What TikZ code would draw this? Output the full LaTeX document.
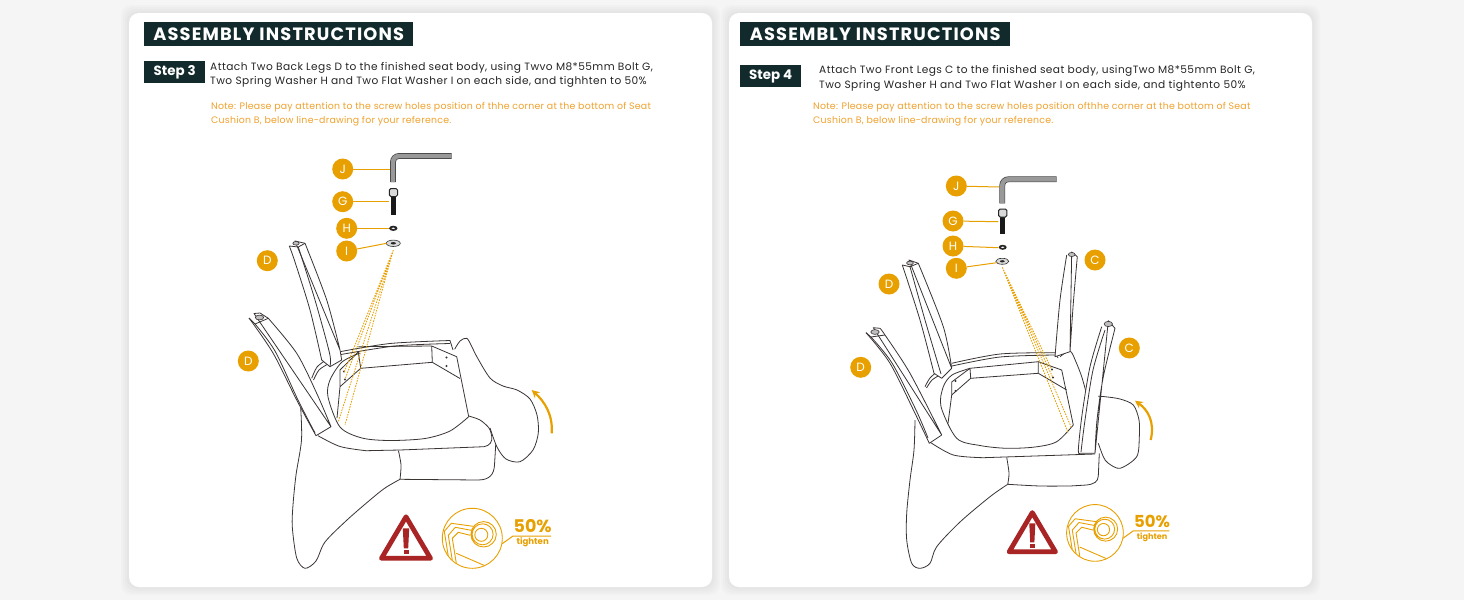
\documentclass[tikz,border=0pt]{standalone}
\usepackage{fontspec}
\setmainfont{Poppins}
\usetikzlibrary{arrows.meta}
\definecolor{pagegray}{HTML}{F5F5F5}
\definecolor{headbg}{HTML}{132A2C}
\definecolor{tagorange}{HTML}{E8A000}
\definecolor{noteorange}{HTML}{F0A22E}
\definecolor{warnred}{HTML}{A92424}
\definecolor{inkline}{HTML}{3A3433}
\newfontfamily\wideface[LetterSpace=4]{Poppins}
\newfontfamily\noteface[LetterSpace=2.5]{Poppins}
\newfontfamily\headface[LetterSpace=6.5]{Poppins}
\tikzset{
  headbox/.style={fill=headbg,text=white,font=\headface\bfseries\fontsize{17.8}{19}\selectfont,minimum height=24pt,inner sep=0pt,anchor=north west},
  stepbox/.style={fill=headbg,text=white,font=\bfseries\fontsize{13.4}{15}\selectfont,minimum width=61pt,minimum height=22pt,inner sep=0pt,anchor=north west},
  bodytext/.style={text=black!85,font=\wideface\fontsize{10.6}{14.4}\selectfont,align=left,anchor=north west,inner sep=0pt},
  notetext/.style={text=noteorange,font=\noteface\fontsize{9.4}{13.3}\selectfont,align=left,anchor=north west,inner sep=0pt},
  tag/.style={circle,fill=tagorange,text=white,font=\fontsize{12}{14}\selectfont,minimum size=21pt,inner sep=0pt},
  tagline/.style={tagorange,line width=1pt},
  outline/.style={draw=inkline,line width=.8pt,fill=white,line join=round},
  thinline/.style={draw=inkline,line width=.8pt,line join=round},
  capdot/.style={draw=inkline,line width=.6pt,fill=black!25},
  aimline/.style={tagorange,line width=.8pt,dash pattern=on 1.6pt off 1.1pt},
  turnarrow/.style={tagorange,line width=2.2pt,-{Stealth[length=8pt,width=8pt,inset=3pt]}},
  hexkey/.style={draw=black!75,double=black!40,line width=.7pt,double distance=4.4pt,rounded corners=6pt},
}
\begin{document}
\begin{tikzpicture}[x=1pt,y=-1pt]
\useasboundingbox (0,0) rectangle (1464,600);
\fill[pagegray] (0,0) rectangle (1464,600);

% cards
\foreach \x in {129,729}{
  \foreach \w in {8,6,4,2}{
    \fill[black,opacity=.014,rounded corners=10pt] (\x-\w,13-\w) rectangle (\x+583+\w,587+\w);
  }
  \fill[white,rounded corners=10pt] (\x,13) rectangle (\x+583,587);
}

% headings
\node[headbox,minimum width=269pt] (headl) at (144,22) {ASSEMBLY INSTRUCTIONS};
\node[headbox,minimum width=270pt] (headr) at (740,22) {ASSEMBLY INSTRUCTIONS};
\node[stepbox] (stepl) at (144,61) {\raisebox{-1pt}{Step 3}};
\node[stepbox] (stepr) at (740,65) {\raisebox{-1pt}{Step 4}};
\node[bodytext] (bodyl) at (210,62) {Attach Two Back Legs D to the finished seat body, using Twvo M8*55mm Bolt G,\\Two Spring Washer H and Two Flat Washer I on each side, and tighhten to 50\%};
\node[bodytext] (bodyr) at (819,65.5) {Attach Two Front Legs C to the finished seat body, usingTwo M8*55mm Bolt G,\\Two Spring Washer H and Two Flat Washer I on each side, and tightento 50\%};
\node[notetext] (notel) at (211,102.5) {Note: Please pay attention to the screw holes position of thhe corner at the bottom of Seat\\Cushion B, below line-drawing for your reference.};
\node[notetext] (noter) at (813,102.5) {Note: Please pay attention to the screw holes position ofthhe corner at the bottom of Seat\\Cushion B, below line-drawing for your reference.};

% left chair
\draw[outline] plot[smooth] coordinates {(300.7,408) (301.5,440) (296,475) (293,505) (292.3,527) (296.7,558) (305,568.3) (316,561) (325,542) (347,520) (370,500) (385,488) (400,479.3)};
\draw[outline] plot[smooth] coordinates {(398.3,450) (401,465) (400,479.3)} -- (478,480) .. controls (490,480) and (494,474) .. (494.5,465) -- (496,440);
\draw[outline] plot[smooth] coordinates {(453,352) (460,341) (466.7,338.3) (471,345) (477,357) (490,378) (503,386) (517,390) (530,399) (537,415) (538.3,433) (533,450) (520,461.7) (506,459) (497,447) (490,428)};
\fill[white] (312,380) -- (322,364) -- (340,352) -- (450,341) -- (456,352) -- (468,416) -- (490,430) -- (491,441) -- (483,447) -- (370,451.7) -- (316,435.7) -- cycle;
\draw[thinline] plot[smooth] coordinates {(340,351.7) (390,343.5) (450,340.5)} -- (453,350);
\draw[thinline] plot[smooth] coordinates {(341,354.5) (395,346) (450,343.5)};
\draw[thinline] plot[smooth] coordinates {(311.7,378.3) (317,367) (326,360)} plot[smooth] coordinates {(313.5,380) (319,370) (328,364)};
\draw[thinline] plot[smooth] coordinates {(318,435.7) (340,446.5) (366,450.7)} -- (400,450) -- (484,446.7) .. controls (490,445.5) and (492.5,442) .. (491.7,436);
\draw[thinline] plot[smooth] coordinates {(491.7,436) (489,428) (480,420) (468.7,416)};
\draw[thinline] plot[smooth] coordinates {(360,353) (342,362) (330,380) (328,397) (340,427) (362,438) (390,440.5) (425,438.5) (450,431) (468.7,416.7)};
\draw[thinline] (468.7,416.7) -- (456.7,356.7) -- (431.7,346) -- (358.3,346.7);
\draw[thinline] (360.7,368.3) -- (432.3,362.3) (431.7,346) -- (432.3,362.3) -- (460,378.5);
\draw[thinline] (340,370) -- (358.3,352) -- (360.7,368.3) -- (340,386.7) -- cycle (340,386.7) -- (337,418);
\foreach \x/\y in {344/371.5,345/379.5,446.5/357.5,446.5/366}{\fill[inkline] (\x,\y) circle (1.1pt);}

\draw[outline] plot[smooth] coordinates {(289.3,246) (295,262) (310,310) (321.7,360)} -- (330,366.7) -- (341.7,360) -- (340,350) plot[smooth] coordinates {(340,350) (326.7,300) (305,243.3)} -- (295,241) -- cycle;
\draw[thinline] plot[smooth] coordinates {(298.3,247) (315,300) (329.5,353) (330,366)} (289.3,246) -- (298.3,247) -- (305,243.3);
\draw[capdot] (296,243.3) ellipse (3.2pt and 1.8pt);
\draw[outline] plot[smooth] coordinates {(249,318) (273,353) (296.7,400) (316,435.7)} -- (331,426.7) plot[smooth] coordinates {(331,426.7) (316.7,393.3) (296.7,353.3) (268.3,318.3)} -- (260,313) -- (254,313.5) -- cycle;
\draw[thinline] plot[smooth] coordinates {(255,324) (275,351) (298,400) (315,433)} (249,318) -- (255,324) -- (268.3,318.3);
\draw[capdot] (259.5,317.5) ellipse (4.2pt and 2.4pt);

\draw[aimline] (393.3,250) -- (344.3,371.7) (393.3,250) -- (345,379.3) (393.3,250) -- (338.3,421.7) (393.3,250) -- (345,425);
\draw[turnarrow] (551.7,433.3) .. controls (553,415) and (545,402) .. (531.7,390);

% left parts
\draw[hexkey] (451.7,156) -- (393,156) -- (393,182);
\coordinate (keyl) at (389.5,169);
\coordinate (boltl) at (388.5,201.7);
\coordinate (springl) at (389,228.3);
\coordinate (flatl) at (386.5,243.3);
\fill[black!90] (390.8,196) rectangle (395.8,215);
\draw[fill=black!15,draw=black!85,line width=1pt,rounded corners=1.5pt] (389.3,188.5) rectangle (397.5,196.5);
\fill[black!85] (393.3,228.3) ellipse (4.2pt and 2.6pt);
\fill[white] (393.3,228.3) ellipse (1.8pt and .8pt);
\draw[fill=black!15,draw=black!80,line width=.6pt] (393.3,243.3) ellipse (7pt and 3.2pt);
\fill[black!85] (393.3,243.3) ellipse (2.6pt and 1.2pt);

\foreach \n/\x/\y/\t/\c in {jl/342.7/169/J/keyl,gl/342.7/201.7/G/boltl,hl/346.7/228.3/H/springl,il/346.7/251/I/flatl}{
  \node[tag] (\n) at (\x,\y) {\t};
  \draw[tagline] (\n) -- (\c);
}
\node[tag] (dla) at (267.3,260.7) {D};
\node[tag] (dlb) at (248.3,361) {D};

% right chair
\draw[outline] plot[smooth] coordinates {(915,420) (914,450) (910,480) (906.7,513.3) (906.7,540) (911.7,563.3) (920,568.3) (930,563.3) (936.7,546.7) (960,522) (990,496.7) (1007.7,484.3)};
\draw[outline] plot[smooth] coordinates {(1006.7,457.3) (1009,473.3) (1007.7,484.3)} plot[smooth] coordinates {(1007.7,484.3) (1040,486) (1070,486)} -- (1086.7,485) .. controls (1094,484) and (1098,482) .. (1098.3,476) -- (1099.3,453.3);
\draw[outline] plot[smooth] coordinates {(1095,396) (1105,396.7) (1120,399) (1133.3,405) (1139,420) (1139.3,437) (1136.7,456.7) (1120,468.3) (1108,463) (1103.3,456.7) (1098.3,443.3)};
\fill[white] (925,386.7) -- (935,375) -- (951.7,363.3) -- (1055,352.7) -- (1075,420) -- (1095,454) -- (983,457.7) -- (953,455) -- (929,441.7) -- cycle;

\draw[thinline] plot[smooth] coordinates {(1060,356.7) (1070,351) (1076,362) (1081.7,376.7) (1086,392)};
\draw[thinline] plot[smooth] coordinates {(951.7,363.3) (1000,354) (1055,352.7)} -- (1058,358);
\draw[thinline] plot[smooth] coordinates {(952,366) (1000,357) (1055,355)};
\draw[thinline] plot[smooth] coordinates {(925,386.7) (930,378) (938,371)} plot[smooth] coordinates {(926.5,388) (932,380) (940,375)};
\draw[thinline] plot[smooth] coordinates {(929.3,441.7) (953.3,455) (983.3,457.7)} -- (1095,454);
\draw[thinline] plot[smooth] coordinates {(970,368.3) (952,375) (943.3,386.7) (941,406.7) (956.7,438.3) (980,445.5) (1006.7,448.3) (1035,447) (1056.7,441.7) (1073.3,425)};
\draw[thinline] (1073.3,425) -- (1061.7,370) -- (1038.3,361.7) -- (970,368.3);
\draw[thinline] (970.7,378.3) -- (1038.3,373.3) (1038.3,361.7) -- (1038.3,373.3) -- (1066.7,390);
\draw[thinline] (951.7,382) -- (970,368.3) -- (970.7,378.3) -- (951.7,395) -- cycle (951.7,395) -- (948,423.3);
\foreach \x/\y in {955.5/381,955.5/391,1052/369.5,1053/377.5}{\fill[inkline] (\x,\y) circle (1.1pt);}

\draw[outline] plot[smooth] coordinates {(902.3,265) (920,320) (934,373.3)} -- (941.7,378.3) -- (951.7,368.3) plot[smooth] coordinates {(951.7,368.3) (943.3,326.7) (918.3,263.3)} -- (909,260) -- cycle;
\draw[thinline] plot[smooth] coordinates {(910,266.7) (925,320) (941,374)} (902.3,265) -- (910,266.7) -- (918.3,263.3);
\draw[capdot] (910,263) ellipse (3.4pt and 1.9pt);
\draw[outline] plot[smooth] coordinates {(866,332.7) (890,363.3) (915,413.3) (929.3,443.3)} -- (941.7,435) plot[smooth] coordinates {(941.7,435) (910,373.3) (885,335) (880,328.3)} -- (873.3,327.7) -- cycle;
\draw[thinline] plot[smooth] coordinates {(871,337) (892,363) (916,410) (928,438)} (866,332.7) -- (871,337) -- (885,335);
\draw[capdot] (875,332) ellipse (4.2pt and 2.4pt);
\draw[outline] plot[smooth] coordinates {(1066.7,255) (1060,300) (1055,356.7)} -- (1070,351.7) plot[smooth] coordinates {(1070,351.7) (1073.3,303.3) (1077.3,256.7)} -- (1071.7,252) -- cycle;
\draw[capdot] (1071.7,254.5) ellipse (3.4pt and 2pt);
\draw[outline] plot[smooth] coordinates {(1101.7,326.7) (1090,366.7) (1082,415) (1078.3,450) (1080,453.3)} -- (1095,453.3) plot[smooth] coordinates {(1095,453.3) (1097,420) (1103.3,376.7) (1115,328.3)} -- (1108.3,320.7) -- cycle;
\draw[thinline] plot[smooth] coordinates {(1105,330) (1093,370) (1085,420) (1081,452)};
\draw[capdot] (1108.3,324) ellipse (4.2pt and 2.6pt);

\draw[aimline] (1002.3,267.3) -- (1051.7,369.3) (1002.3,267.3) -- (1052.7,377.3) (1002.3,267.3) -- (1068.3,433.3) (1002.3,267.3) -- (1071.7,428.3);
\draw[turnarrow] (1150.7,440) .. controls (1155,422) and (1148,410) .. (1135,400.7);

% right parts
\draw[hexkey] (1056.7,179.3) -- (1002.3,179.3) -- (1002.3,203.3);
\coordinate (keyr) at (999,187);
\coordinate (boltr) at (998.3,221.7);
\coordinate (springr) at (998.3,247.7);
\coordinate (flatr) at (996.7,262.7);
\fill[black!90] (1000.2,216.5) rectangle (1005.2,234);
\draw[fill=black!15,draw=black!85,line width=1pt,rounded corners=1.5pt] (998.6,209) rectangle (1006.8,217);
\fill[black!85] (1002.7,247.3) ellipse (4pt and 2.5pt);
\fill[white] (1002.7,247.3) ellipse (1.7pt and .8pt);
\draw[fill=black!15,draw=black!80,line width=.6pt] (1002.3,261.3) ellipse (6.5pt and 3pt);
\fill[black!85] (1002.3,261.3) ellipse (2.4pt and 1.1pt);

\foreach \n/\x/\y/\t/\c in {jr/956.3/186/J/keyr,gr/953/221/G/boltr,hr/953/246/H/springr,ir/956.3/268.3/I/flatr}{
  \node[tag] (\n) at (\x,\y) {\t};
  \draw[tagline] (\n) -- (\c);
}
\node[tag] (dra) at (889,284) {D};
\node[tag] (drb) at (860.7,367.3) {D};
\node[tag] (cra) at (1095,260) {C};
\node[tag] (crb) at (1129.3,348) {C};

% warning sign and badge
\foreach \x/\y/\s/\k in {406/513.3/1/a,1032.3/509.3/.945/b}{
\begin{scope}[shift={(\x,\y)},scale=\s,transform shape]
  \draw[warnred,line width=4.8pt,line join=round] (0,3.5) -- (24.5,45) -- (-24.5,45) -- cycle;
  \fill[warnred] (-3.2,15) -- (3.2,15) -- (2.2,35) -- (-2.2,35) -- cycle;
  \fill[warnred] (-2.5,37) rectangle (2.5,41);
  \node[circle,draw=tagorange,line width=.9pt,minimum size=60pt,inner sep=0pt] (badge\k) at (66.3,25) {};
  \begin{scope}[shift={(66.3,25)}]
    \clip (0,0) circle (29.6);
    \draw[tagorange,line width=.9pt] (11.3,-4) circle (12.7) (10.3,-4) circle (10.5) (9,-3.5) circle (6.5);
    \draw[tagorange,line width=.9pt,line join=round]
      (1,-12) -- (-21,-15) -- (-28,-7) -- (-24,18)
      (-1,-8) -- (-17,-11) -- (-24,-3) -- (-20,22)
      (-2,-3) -- (-14,-6) -- (-20,0) -- (-16,25)
      (-16,15) -- (14,28);
  \end{scope}
  \coordinate (knee\k) at (107,22.7);
  \coordinate (end\k) at (145,22.7);
  \draw[tagorange,line width=1pt] (badge\k) ++(29.8,5.5) -- (knee\k) -- (end\k);
  \node[text=tagorange,font=\bfseries\fontsize{17.5}{19}\selectfont,inner sep=0pt] (pct\k) at (126.7,12.7) {50\%};
  \node[text=tagorange,font=\bfseries\fontsize{8.6}{10}\selectfont,inner sep=0pt] (tgt\k) at (126.7,29.2) {tighten};
\end{scope}
}
\end{tikzpicture}
\end{document}
